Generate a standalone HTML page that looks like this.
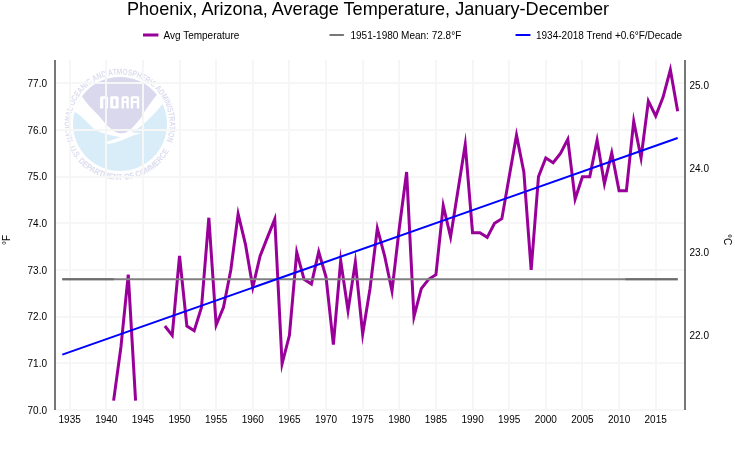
<!DOCTYPE html>
<html><head><meta charset="utf-8"><style>
html,body{margin:0;padding:0;background:#fff;}
svg{display:block;font-family:"Liberation Sans",sans-serif;will-change:transform;}
</style></head><body>
<svg width="735" height="450" viewBox="0 0 735 450">
<rect width="735" height="450" fill="#fff"/>
<text x="368" y="15" font-size="18.1" text-anchor="middle" fill="#000">Phoenix, Arizona, Average Temperature, January-December</text>
<g font-size="10" fill="#000">
<line x1="143" y1="35" x2="158.4" y2="35" stroke="#990099" stroke-width="3"/>
<text x="163.5" y="39">Avg Temperature</text>
<line x1="330.2" y1="35" x2="343.2" y2="35" stroke="#777" stroke-width="2" stroke-linecap="round"/>
<text x="350.5" y="39">1951-1980 Mean: 72.8°F</text>
<line x1="516.3" y1="35" x2="529.7" y2="35" stroke="#0000ff" stroke-width="2" stroke-linecap="round"/>
<text x="536" y="39">1934-2018 Trend +0.6°F/Decade</text>
</g>
<g id="logo">
<defs><clipPath id="cc"><circle cx="120" cy="124" r="47"/></clipPath>
<path id="tp" d="M 73.5 140.9 A 49.5 49.5 0 1 1 166.5 140.9"/>
<path id="bp" d="M 69.3 147.7 A 56 56 0 0 0 169.4 150.3"/>
</defs>
<circle cx="120" cy="124" r="47" fill="#d9edf9"/>
<g clip-path="url(#cc)">
<path d="M60 100 L74.9 112 C 75.7 112.5, 78.0 113.7, 79.8 115.2 C 81.6 116.7, 83.4 118.7, 85.9 121.0 C 88.4 123.3, 92.1 127.4, 94.7 129.3 C 97.3 131.2, 99.4 131.7, 101.7 132.6 C 104.0 133.5, 106.4 134.2, 108.7 134.8 C 111.0 135.4, 113.5 135.8, 115.5 136.2 C 117.5 136.6, 119.8 137.0, 120.7 137.2 C 119.7 137.5, 117.1 138.3, 114.4 139.2 C 111.8 140.1, 106.4 141.9, 104.8 142.4 L104.8 143.2 C 105.8 143.3, 108.3 143.9, 110.6 143.6 C 112.8 143.3, 115.7 142.4, 118.3 141.6 C 120.9 140.8, 123.5 139.6, 126.1 138.5 C 128.7 137.4, 131.4 136.1, 133.9 135.3 C 136.4 134.5, 139.7 134.0, 140.9 133.7 L140.9 133.5 C 139.7 133.3, 135.6 132.7, 133.9 132.5 C 132.2 132.3, 131.1 132.3, 130.5 132.3 C 131.6 131.8, 134.9 130.3, 137.0 129.0 C 139.1 127.7, 141.0 126.1, 143.2 124.3 C 145.4 122.5, 147.8 120.3, 150.0 118.1 C 152.2 115.9, 154.5 113.6, 156.7 111.1 C 158.9 108.6, 161.4 105.6, 163.3 103.3 C 165.2 101.0, 167.2 98.0, 168.0 97.0 L180 60 L60 60 Z" fill="#fff"/>
<path d="M60 80 L82.2 96.7 C 83.2 98.0, 86.3 102.4, 88.3 104.7 C 90.3 107.0, 92.1 108.8, 94.0 110.8 C 95.9 112.8, 97.4 114.1, 99.5 116.5 C 101.6 118.9, 104.2 122.5, 106.7 125.0 C 109.2 127.5, 112.1 129.8, 114.4 131.2 C 116.7 132.6, 118.6 133.2, 120.7 133.3 C 122.8 133.4, 125.2 132.9, 127.2 131.8 C 129.2 130.8, 131.3 128.6, 133.0 127.0 C 134.7 125.4, 136.1 123.7, 137.5 122.0 C 138.9 120.3, 140.1 119.0, 141.4 117.0 C 142.8 115.0, 144.0 112.5, 145.6 110.0 C 147.2 107.5, 149.2 104.7, 151.1 102.2 C 152.9 99.7, 155.8 96.2, 156.7 95.0 L180 70 L180 60 L60 60 Z" fill="#d9d8ec"/>
</g>
<path fill="#fff" fill-rule="evenodd" d="M100.1 108.5 V97.8 Q100.1 96.3 101.6 96.3 H106.5 Q108 96.3 108 97.8 V108.5 H105.2 V98.8 H103.3 V108.5 Z M110.2 97.8 Q110.2 96.3 111.7 96.3 H117.2 Q118.7 96.3 118.7 97.8 V107 Q118.7 108.5 117.2 108.5 H111.7 Q110.2 108.5 110.2 107 Z M113.2 99 V106 H115.7 V99 Z M121.5 108.5 V97.8 Q121.5 96.3 123 96.3 H127.3 Q128.8 96.3 128.8 97.8 V108.5 H126.4 V103 H123.9 V108.5 Z M123.9 98.5 V100.9 H126.4 V98.5 Z M130.7 108.5 V97.8 Q130.7 96.3 132.2 96.3 H137.8 Q139.3 96.3 139.3 97.8 V108.5 H136.8 V103 H133.2 V108.5 Z M133.2 98.5 V100.9 H136.8 V98.5 Z"/>
<g fill="#dcddef" font-size="8.5" font-weight="bold" font-family="Liberation Sans, sans-serif">
<text><textPath href="#tp" textLength="190" lengthAdjust="spacingAndGlyphs">NATIONAL OCEANIC AND ATMOSPHERIC ADMINISTRATION</textPath></text>
<text><textPath href="#bp" textLength="123" lengthAdjust="spacingAndGlyphs">U.S. DEPARTMENT OF COMMERCE</textPath></text>
</g>
</g>
<g stroke="#f6f6f6" stroke-width="2"><line x1="56" y1="410" x2="684" y2="410"/><line x1="56" y1="363" x2="684" y2="363"/><line x1="56" y1="317" x2="684" y2="317"/><line x1="56" y1="270" x2="684" y2="270"/><line x1="56" y1="223" x2="684" y2="223"/><line x1="56" y1="177" x2="684" y2="177"/><line x1="56" y1="130" x2="684" y2="130"/><line x1="56" y1="83" x2="684" y2="83"/><line x1="70" y1="60" x2="70" y2="410"/><line x1="106" y1="60" x2="106" y2="410"/><line x1="143" y1="60" x2="143" y2="410"/><line x1="180" y1="60" x2="180" y2="410"/><line x1="216" y1="60" x2="216" y2="410"/><line x1="253" y1="60" x2="253" y2="410"/><line x1="289" y1="60" x2="289" y2="410"/><line x1="326" y1="60" x2="326" y2="410"/><line x1="363" y1="60" x2="363" y2="410"/><line x1="399" y1="60" x2="399" y2="410"/><line x1="436" y1="60" x2="436" y2="410"/><line x1="473" y1="60" x2="473" y2="410"/><line x1="509" y1="60" x2="509" y2="410"/><line x1="546" y1="60" x2="546" y2="410"/><line x1="582" y1="60" x2="582" y2="410"/><line x1="619" y1="60" x2="619" y2="410"/><line x1="656" y1="60" x2="656" y2="410"/></g>
<line x1="55" y1="60" x2="55" y2="410" stroke="#777" stroke-width="2"/>
<line x1="685" y1="60" x2="685" y2="410" stroke="#777" stroke-width="2"/>
<g font-size="10" fill="#000"><text x="47" y="413.5" text-anchor="end">70.0</text><text x="47" y="366.8" text-anchor="end">71.0</text><text x="47" y="320.2" text-anchor="end">72.0</text><text x="47" y="273.5" text-anchor="end">73.0</text><text x="47" y="226.8" text-anchor="end">74.0</text><text x="47" y="180.2" text-anchor="end">75.0</text><text x="47" y="133.5" text-anchor="end">76.0</text><text x="47" y="86.8" text-anchor="end">77.0</text><text x="689.5" y="88.9">25.0</text><text x="689.5" y="172.0">24.0</text><text x="689.5" y="256.1">23.0</text><text x="689.5" y="338.9">22.0</text><text x="69.7" y="423" text-anchor="middle">1935</text><text x="106.3" y="423" text-anchor="middle">1940</text><text x="142.9" y="423" text-anchor="middle">1945</text><text x="179.5" y="423" text-anchor="middle">1950</text><text x="216.2" y="423" text-anchor="middle">1955</text><text x="252.8" y="423" text-anchor="middle">1960</text><text x="289.4" y="423" text-anchor="middle">1965</text><text x="326.0" y="423" text-anchor="middle">1970</text><text x="362.7" y="423" text-anchor="middle">1975</text><text x="399.3" y="423" text-anchor="middle">1980</text><text x="435.9" y="423" text-anchor="middle">1985</text><text x="472.6" y="423" text-anchor="middle">1990</text><text x="509.2" y="423" text-anchor="middle">1995</text><text x="545.8" y="423" text-anchor="middle">2000</text><text x="582.4" y="423" text-anchor="middle">2005</text><text x="619.1" y="423" text-anchor="middle">2010</text><text x="655.7" y="423" text-anchor="middle">2015</text>
<text transform="translate(10,240) rotate(-90)" text-anchor="middle">°F</text>
<text transform="translate(724,239.5) rotate(90)" text-anchor="middle">°C</text>
</g>
<path d="M113.60 400.67 L120.93 347.00 L128.26 274.67 L135.58 400.67 M164.88 326.00 L172.21 335.33 L179.53 256.00 L186.86 326.00 L194.19 330.67 L201.51 307.33 L208.84 217.73 L216.16 325.07 L223.49 307.33 L230.81 270.00 L238.14 214.00 L245.47 244.33 L252.79 287.27 L260.12 256.00 L267.44 237.33 L274.77 219.13 L282.09 363.80 L289.42 335.33 L296.74 252.27 L304.07 279.33 L311.40 284.00 L318.72 251.80 L326.05 277.00 L333.37 344.67 L340.70 260.67 L348.02 310.60 L355.35 262.07 L362.67 333.93 L370.00 288.67 L377.33 228.47 L384.65 256.00 L391.98 291.00 L399.30 228.00 L406.63 172.00 L413.95 316.67 L421.28 288.67 L428.60 279.33 L435.93 274.67 L443.26 205.60 L450.58 236.87 L457.91 190.67 L465.23 144.47 L472.56 232.67 L479.88 232.67 L487.21 237.33 L494.53 223.33 L501.86 218.67 L509.19 176.67 L516.51 135.13 L523.84 172.00 L531.16 270.00 L538.49 176.67 L545.81 158.00 L553.14 162.67 L560.47 153.33 L567.79 139.33 L575.12 199.07 L582.44 176.67 L589.77 176.67 L597.09 140.27 L604.42 183.67 L611.74 152.87 L619.07 190.67 L626.40 190.67 L633.72 121.13 L641.05 158.00 L648.37 101.07 L655.70 116.00 L663.02 97.33 L670.35 69.80 L677.67 111.33 " fill="none" stroke="#990099" stroke-width="3" stroke-linejoin="miter" stroke-miterlimit="10"/>
<line x1="62.33" y1="279.33" x2="677.67" y2="279.33" stroke="#808080" stroke-width="2"/><line x1="62.33" y1="279.33" x2="113.8" y2="279.33" stroke="#6c6c6c" stroke-width="2"/><line x1="625.5" y1="279.33" x2="677.67" y2="279.33" stroke="#6c6c6c" stroke-width="2"/>
<line x1="62.33" y1="354.65" x2="677.67" y2="138.03" stroke="#0000ff" stroke-width="2"/>
</svg>
</body></html>
